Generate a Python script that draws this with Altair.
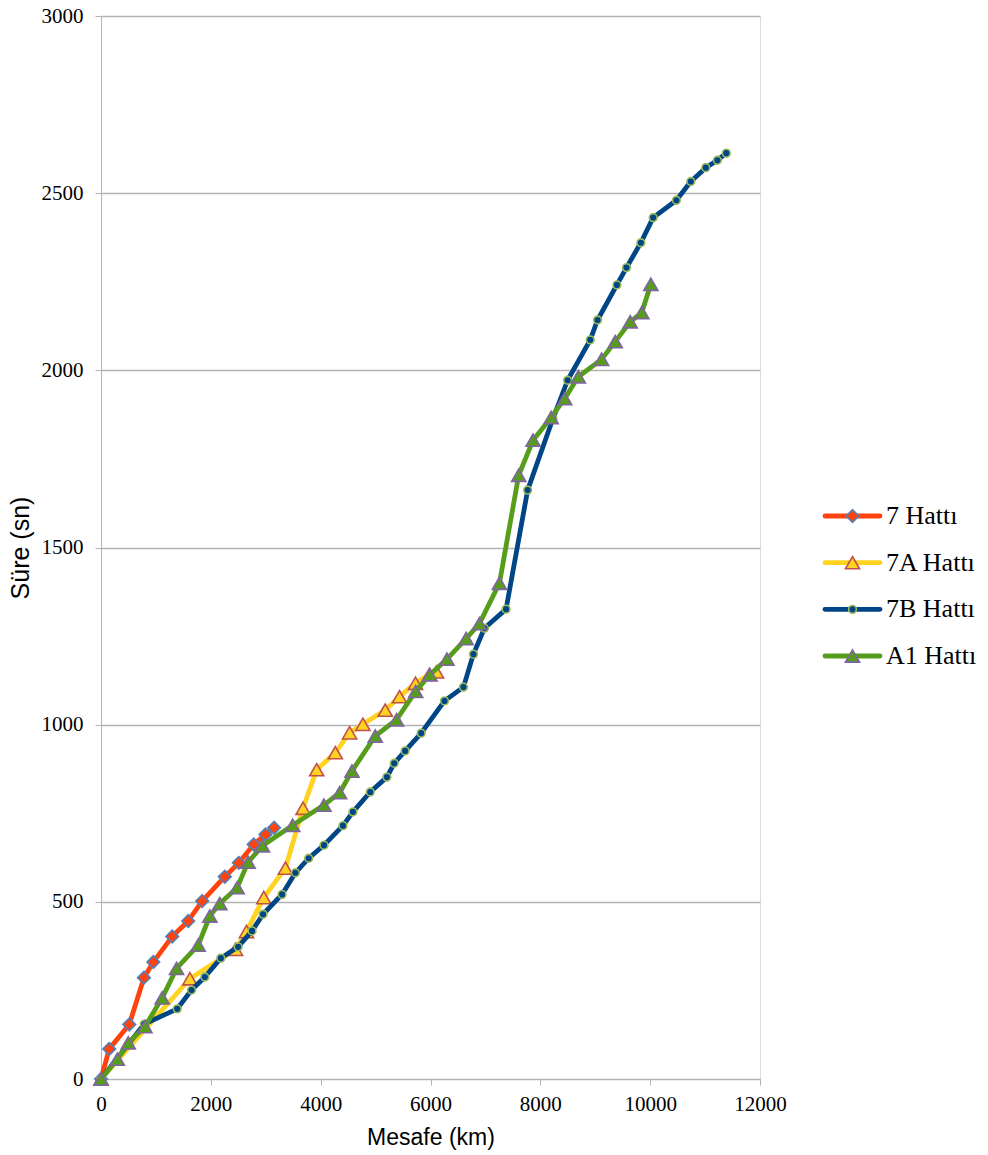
import altair as alt
import pandas as pd

# Series names (legend order) and their travel-time profiles
SERIES = ["7 Hattı", "7A Hattı", "7B Hattı", "A1 Hattı"]

hat7_km = [0, 150, 515, 782, 952, 1296, 1588, 1842, 2255, 2509, 2782, 2994, 3152]
hat7_sn = [0, 85, 154, 286, 330, 402, 446, 502, 571, 610, 662, 690, 709]

hat7a_km = [0, 1618, 2449, 2649, 2964, 3358, 3679, 3927, 4267, 4527, 4769, 5176,
            5436, 5727, 5982, 6110]
hat7a_sn = [0, 283, 366, 416, 512, 595, 764, 873, 921, 977, 1001, 1041,
            1079, 1117, 1142, 1149]

hat7b_km = [0, 788, 1388, 1649, 1891, 2182, 2497, 2751, 2951, 3297, 3540, 3782,
            4060, 4406, 4588, 4903, 5206, 5339, 5539, 5830, 6255, 6600, 6782,
            6982, 7376, 7769, 8230, 8497, 8909, 9042, 9394, 9569, 9830, 10055,
            10478, 10740, 11013, 11224, 11387]
hat7b_sn = [0, 155, 198, 251, 288, 341, 373, 418, 465, 521, 582, 623,
            660, 715, 754, 810, 852, 891, 926, 976, 1067, 1106, 1199,
            1272, 1326, 1662, 1864, 1972, 2086, 2142, 2241, 2290, 2360, 2431,
            2480, 2533, 2572, 2593, 2613]

hatA1_km = [0, 297, 497, 800, 1115, 1376, 1770, 1982, 2164, 2479, 2679, 2940,
            3490, 4060, 4345, 4570, 4994, 5382, 5730, 5988, 6300, 6649, 6891,
            7255, 7606, 7868, 8197, 8443, 8691, 9115, 9364, 9636, 9848, 10012]
hatA1_sn = [0, 56, 102, 148, 229, 312, 378, 460, 495, 540, 612, 658,
            716, 773, 808, 869, 968, 1014, 1094, 1141, 1185, 1243, 1285,
            1399, 1704, 1803, 1867, 1920, 1982, 2031, 2081, 2137, 2163, 2243]

X_TICKS = [0, 2000, 4000, 6000, 8000, 10000, 12000]
Y_TICKS = [0, 500, 1000, 1500, 2000, 2500, 3000]

# Styling per series
LINE_COLORS = ["#FF420E", "#FFD320", "#004586", "#579D1C"]
MARKER_FILL = ["#FF420E", "#FFD320", "#004586", "#579D1C"]
MARKER_EDGE = ["#4F81BD", "#C0504D", "#9BBB59", "#8064A2"]
MARKER_SHAPE = ["diamond", "triangle-up", "circle", "triangle-up"]
MARKER_SIZE = [160, 200, 60, 200]

GRID = "#B3B3B3"
SERIF = "Liberation Serif"
SANS = "Liberation Sans"

rows = []
for name, xs, ys in zip(SERIES,
                        [hat7_km, hat7a_km, hat7b_km, hatA1_km],
                        [hat7_sn, hat7a_sn, hat7b_sn, hatA1_sn]):
    for i, (x, y) in enumerate(zip(xs, ys)):
        rows.append({"hat": name, "mesafe": x, "sure": y, "sira": i})
df = pd.DataFrame(rows)

color_scale = alt.Scale(domain=SERIES, range=LINE_COLORS)
fill_scale = alt.Scale(domain=SERIES, range=MARKER_FILL)
stroke_scale = alt.Scale(domain=SERIES, range=MARKER_EDGE)
shape_scale = alt.Scale(domain=SERIES, range=MARKER_SHAPE)

x_enc = alt.X(
    "mesafe:Q",
    scale=alt.Scale(domain=[0, 12000], nice=False, zero=True),
    axis=alt.Axis(
        values=X_TICKS, format="d", title="Mesafe (km)", grid=False,
        domainColor=GRID, tickColor=GRID, tickSize=6, labelPadding=8,
        labelFont=SERIF, labelFontSize=21, labelColor="black",
        titleFont=SANS, titleFontSize=23, titleFontWeight="normal",
        titleColor="black", titlePadding=12, labelFlush=False,
    ),
)
y_enc = alt.Y(
    "sure:Q",
    scale=alt.Scale(domain=[0, 3000], nice=False),
    axis=alt.Axis(
        values=Y_TICKS, format="d", title="Süre (sn)", grid=True,
        gridColor=GRID, gridWidth=1.3, domainColor=GRID, tickColor=GRID,
        tickSize=6, labelPadding=12, labelFont=SERIF, labelFontSize=21,
        labelColor="black", titleFont=SANS, titleFontSize=25,
        titleFontWeight="normal", titleColor="black", titlePadding=8,
        labelFlush=False,
    ),
)

base = alt.Chart(df).encode(x=x_enc, y=y_enc)


def marker_encoding():
    return dict(
        shape=alt.Shape("hat:N", scale=shape_scale, legend=None),
        fill=alt.Fill("hat:N", scale=fill_scale, legend=None),
        stroke=alt.Stroke("hat:N", scale=stroke_scale, legend=None),
    )


layers = []
for i, name in enumerate(SERIES):
    sub = base.transform_filter(alt.datum.hat == name)
    layers.append(
        sub.mark_line(strokeWidth=4.8, strokeJoin="round", strokeCap="round").encode(
            color=alt.Color("hat:N", scale=color_scale, legend=None),
            order="sira:Q",
        )
    )
    layers.append(
        sub.mark_point(filled=True, opacity=1, strokeWidth=1.6,
                       size=MARKER_SIZE[i]).encode(**marker_encoding())
    )

main = alt.layer(*layers).properties(width=659, height=1063)

# Hand-built legend: line sample, marker and label for each series
leg_df = pd.DataFrame({"hat": SERIES})
leg_x = alt.Scale(domain=[0, 1])
leg_y = alt.Y("hat:N", axis=None,
              scale=alt.Scale(type="point", domain=SERIES, range=[500, 640], padding=0))
leg_base = alt.Chart(leg_df).encode(y=leg_y)

leg_layers = [
    leg_base.mark_rule(strokeWidth=4.8, strokeCap="round").encode(
        x=alt.X(datum=0, type="quantitative", scale=leg_x, axis=None),
        x2=alt.X2(datum=1),
        color=alt.Color("hat:N", scale=color_scale, legend=None),
    )
]
for i, name in enumerate(SERIES):
    leg_layers.append(
        leg_base.transform_filter(alt.datum.hat == name)
        .mark_point(filled=True, opacity=1, strokeWidth=1.6, size=MARKER_SIZE[i])
        .encode(
            x=alt.X(datum=0.5, type="quantitative", scale=leg_x, axis=None),
            **marker_encoding(),
        )
    )
leg_layers.append(
    leg_base.mark_text(align="left", baseline="middle", dx=6,
                       font=SERIF, fontSize=26, color="black").encode(
        x=alt.X(datum=1, type="quantitative", scale=leg_x, axis=None),
        text="hat:N",
    )
)
legend = alt.layer(*leg_layers).properties(
    width=55, height=1063, view=alt.ViewBackground(stroke=None)
)

chart = (
    alt.hconcat(main, legend, spacing=65, bounds="flush")
    .properties(padding={"left": 7, "top": 4, "right": 2, "bottom": 2})
    .configure_view(stroke=GRID, strokeWidth=1.3)
    .configure(background="white")
)

chart.save("out.html", embed_options={"renderer": "svg", "actions": False})
